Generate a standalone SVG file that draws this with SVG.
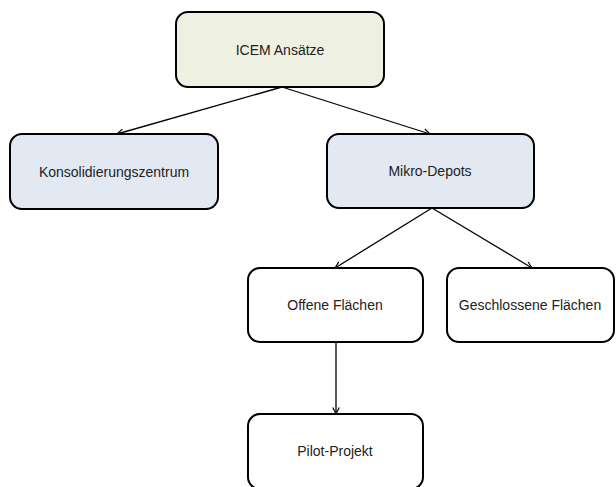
<svg xmlns="http://www.w3.org/2000/svg" width="616" height="487" viewBox="0 0 616 487">
<style>
.box{stroke:#000;stroke-width:2}
.top{fill:#eef0e1}
.mid{fill:#e2e9f3}
.low{fill:#fff}
.lbl{font-family:"Liberation Sans",Arial,sans-serif;font-size:14px;fill:#222;text-anchor:middle}
.con{stroke:#000;stroke-width:1.3;fill:none;marker-end:url(#arr)}
</style>
<defs>
<marker id="arr" viewBox="0 0 10 10" refX="9" refY="5" markerWidth="8" markerHeight="8" markerUnits="userSpaceOnUse" orient="auto">
<path d="M1,1 L9,5 L1,9" fill="none" stroke="#000" stroke-width="1.5"/>
</marker>
</defs>
<rect width="616" height="487" fill="#fff"/>
<g id="connectors">
<line class="con" x1="282" y1="87" x2="117" y2="134"/>
<line class="con" x1="282" y1="87" x2="430" y2="134"/>
<line class="con" x1="432" y1="208" x2="335" y2="268"/>
<line class="con" x1="432" y1="208" x2="532" y2="268"/>
<line class="con" x1="336" y1="342" x2="336" y2="414"/>
</g>
<g id="icem"><rect class="box top" x="176" y="12" width="208" height="75" rx="12"/><text class="lbl" x="280" y="55">ICEM Ansätze</text></g>
<g id="konsolidierungszentrum"><rect class="box mid" x="10" y="134" width="208" height="75" rx="12"/><text class="lbl" x="114" y="177">Konsolidierungszentrum</text></g>
<g id="mikro-depots"><rect class="box mid" x="327" y="134" width="207" height="74" rx="12"/><text class="lbl" x="430" y="176">Mikro-Depots</text></g>
<g id="offene"><rect class="box low" x="248" y="268" width="175" height="74" rx="12"/><text class="lbl" x="335" y="310">Offene Flächen</text></g>
<g id="geschlossene"><rect class="box low" x="447" y="268" width="167" height="74" rx="12"/><text class="lbl" x="530" y="310">Geschlossene Flächen</text></g>
<g id="pilot"><rect class="box low" x="248" y="414" width="175" height="75" rx="12"/><text class="lbl" x="335" y="456">Pilot-Projekt</text></g>
</svg>
